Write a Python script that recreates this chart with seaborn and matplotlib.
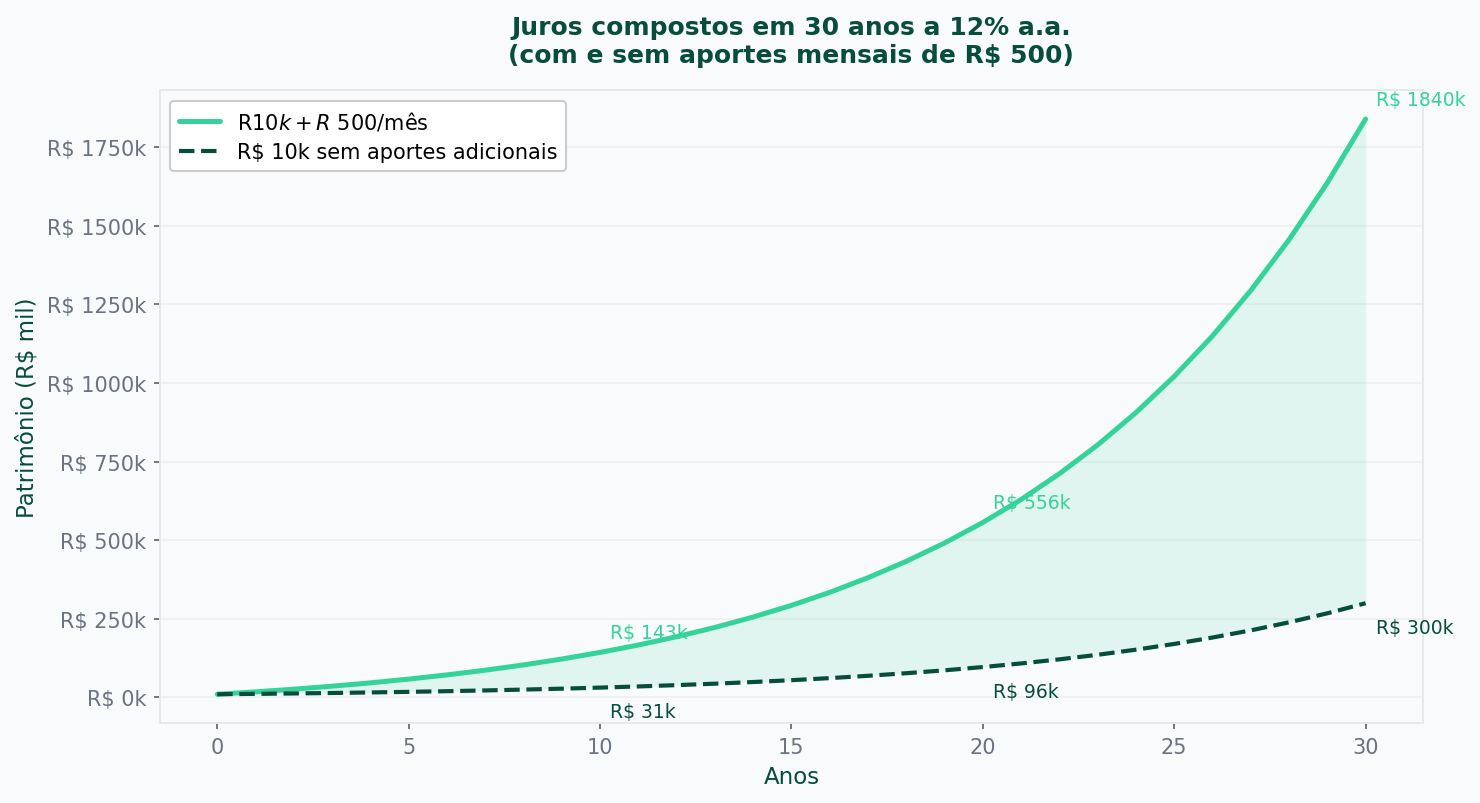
import matplotlib
matplotlib.use("Agg")
import numpy as np
import pandas as pd
import seaborn as sns
import matplotlib.pyplot as plt
from matplotlib.ticker import FuncFormatter, MultipleLocator

# patrimônio ano a ano, em R$ mil
anos = list(range(0, 31))
com_aportes = [10.0, 17.6, 26.1, 35.6, 46.2, 58.2, 71.5, 86.5, 103.3, 122.0,
               143.1, 166.6, 193.0, 222.5, 255.6, 292.7, 334.2, 380.7, 432.8, 491.1,
               556.4, 629.5, 711.5, 803.2, 906.0, 1021.1, 1150.0, 1294.4, 1456.1, 1637.2,
               1840.1]
sem_aportes = [10.0, 11.2, 12.5, 14.0, 15.7, 17.6, 19.7, 22.1, 24.8, 27.7,
               31.1, 34.8, 39.0, 43.6, 48.9, 54.7, 61.3, 68.7, 76.9, 86.1,
               96.5, 108.0, 121.0, 135.5, 151.8, 170.0, 190.4, 213.2, 238.8, 267.5,
               299.6]
anos_destaque = [10, 20, 30]

verde = '#34d399'
escuro = '#064e3b'
fundo = '#f8fafc'

sns.set_style('white')
plt.rcParams['font.family'] = ['DejaVu Sans']

df = pd.DataFrame({'ano': anos, 'com': com_aportes, 'sem': sem_aportes})

fig, ax = plt.subplots(figsize=(14.8 / 1.5, 8.04 / 1.5), dpi=150)
fig.patch.set_facecolor(fundo)
ax.set_facecolor(fundo)

sns.lineplot(data=df, x='ano', y='com', ax=ax, color=verde, linewidth=2.4,
             label='R$ 10k + R$ 500/mês')
sns.lineplot(data=df, x='ano', y='sem', ax=ax, color=escuro, linewidth=2.0,
             linestyle='--', label='R$ 10k sem aportes adicionais')
ax.fill_between(df['ano'], df['sem'], df['com'], color=verde, alpha=0.12, linewidth=0)

for a in anos_destaque:
    v1 = df.loc[df['ano'] == a, 'com'].iloc[0]
    v2 = df.loc[df['ano'] == a, 'sem'].iloc[0]
    ax.annotate(f'R$ {v1:.0f}k', (a, v1), xytext=(5, 5), textcoords='offset points',
                ha='left', va='bottom', fontsize=9, color=verde)
    ax.annotate(f'R$ {v2:.0f}k', (a, v2), xytext=(5, -7), textcoords='offset points',
                ha='left', va='top', fontsize=9, color=escuro)

ax.yaxis.set_major_locator(MultipleLocator(250))
ax.yaxis.set_major_formatter(FuncFormatter(lambda x, p: f'R$ {x:.0f}k'))
ax.xaxis.set_major_locator(MultipleLocator(5))
ax.grid(axis='y', color='#eceef1', linewidth=0.8)
ax.grid(axis='x', visible=False)
for s in ax.spines.values():
    s.set_color('#e5e7eb')
    s.set_linewidth(0.9)
ax.tick_params(axis='both', colors='#6b7280', labelsize=10, length=3, width=0.9,
               left=True, bottom=True)

ax.set_xlabel('Anos', fontsize=11, color=escuro)
ax.set_ylabel('Patrimônio (R$ mil)', fontsize=11, color=escuro)
ax.set_title('Juros compostos em 30 anos a 12% a.a.\n(com e sem aportes mensais de R$ 500)',
             fontsize=12, fontweight='bold', color=escuro, pad=13.5)

leg = ax.legend(loc='upper left', fontsize=10, frameon=True, facecolor='white',
                edgecolor='#cccccc', framealpha=1)
for t in leg.get_texts():
    t.set_color('black')

fig.subplots_adjust(left=0.108, right=0.9615, top=0.8865, bottom=0.0995)
fig.savefig('out.png', dpi=150, facecolor=fundo)
